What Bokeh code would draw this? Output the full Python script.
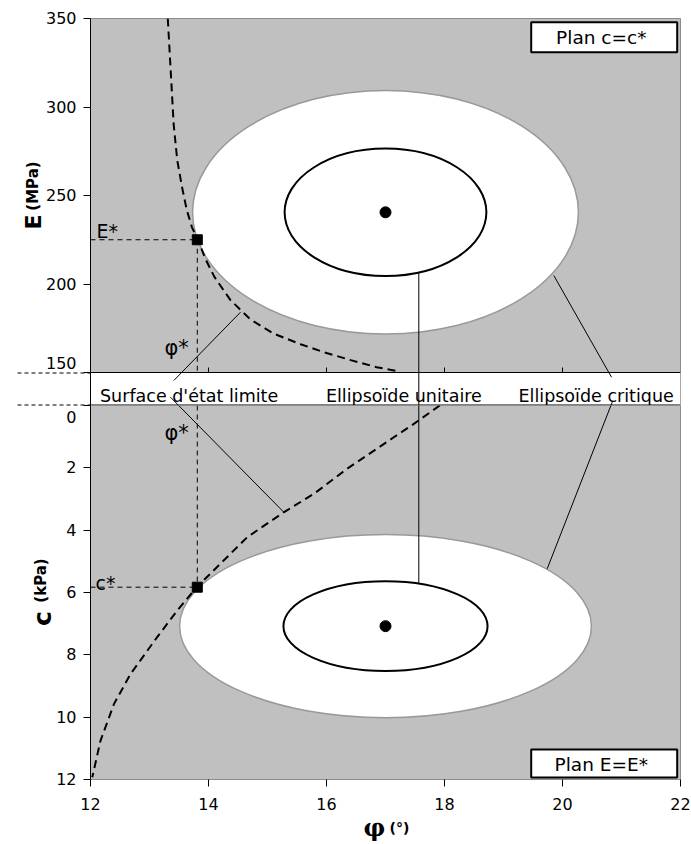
import numpy as np
from bokeh.plotting import figure
from bokeh.models import Range1d, FixedTicker, Label
from bokeh.layouts import column
from bokeh.embed import file_html
from bokeh.resources import INLINE

# ---------------- data ----------------
phi_ticks = [12, 14, 16, 18, 20, 22]
E_ticks = [150, 200, 250, 300, 350]
c_ticks = [0, 2, 4, 6, 8, 10, 12]

# limit-state surface, section c = c*  (phi, E)
lse_phi = [13.31, 13.36, 13.41, 13.47, 13.55, 13.63, 13.72, 13.82, 13.95, 14.10,
           14.37, 14.71, 15.10, 15.56, 16.00, 16.41, 16.85, 17.25]
lse_E = [350, 320, 290, 270, 255, 242, 232, 225, 214, 204,
         191, 180, 172, 166, 161, 157, 153, 150.5]

# limit-state surface, section E = E*  (phi, c)
lsc_phi = [17.92, 17.48, 17.14, 16.35, 15.79, 15.28, 14.66, 14.20, 13.80,
           13.47, 13.13, 12.68, 12.40, 12.17, 12.03]
lsc_c = [0.0, 0.59, 1.02, 2.03, 2.83, 3.42, 4.22, 5.08, 5.83,
         6.58, 7.43, 8.61, 9.57, 10.75, 11.93]

# mean point
phi_mean = 17.0
E_mean = 240.5
c_mean = 7.08

# semi-axes (phi, other) of the ellipsoid sections
unit_E_semi = [1.71, 36.0]
crit_E_semi = [3.27, 68.8]
unit_c_semi = [1.73, 1.44]
crit_c_semi = [3.49, 2.94]

# design point
phi_star = 13.81
E_star = 225.0
c_star = 5.83

# ---------------- layout helpers (page pixels -> data) ----------------
W, H = 691, 844
FL, FR = 90, 680
TOP, Y150, BAND_BOT, Y12 = 18, 372, 405, 779

px_per_phi = (FR - FL) / (22 - 12)
def fx(px):
    return 12 + (px - FL) / px_per_phi
E_per_px = (350 - 150) / (Y150 - TOP)
def fE(py):
    return 350 - (py - TOP) * E_per_px
c_per_px = 12 / (Y12 - BAND_BOT)
def fc(py):
    return (py - BAND_BOT) * c_per_px

E_low = fE(BAND_BOT - 0.5)
GREY = "#c0c0c0"
FONT = "DejaVu Sans"

# leader lines in page pixels
leaders = [
    ((240, 311.7), (173.3, 380)),
    ((170, 396.7), (283.3, 511.7)),
    ((418.3, 272.5), (418.3, 583.2)),
    ((553.3, 275), (611, 376.7)),
    ((611.7, 401.7), (546.7, 568.3)),
]


def style_yaxis(ax, ticks, hidden):
    ax.ticker = FixedTicker(ticks=ticks)
    ax.major_tick_out = 7
    ax.major_tick_in = 0
    ax.minor_tick_line_color = None
    ax.axis_line_color = "black"
    ax.major_tick_line_color = "black"
    ax.major_label_text_font = FONT
    ax.major_label_text_font_size = "16px"
    ax.major_label_text_color = "black"
    ax.major_label_standoff = 7
    # the label at the band edge is drawn shifted away from the band (see overlay)
    ax.major_label_overrides = {hidden: " "}


def lab(p, x, y, text, size, **kw):
    kw.setdefault("text_baseline", "alphabetic")
    p.add_layout(Label(x=x, y=y, text=text, text_font=kw.pop("font", FONT),
                       text_font_size=size, text_color="black", **kw))


# ---------------- top figure: plane c = c* (with label band) ----------------
p1 = figure(width=W, height=BAND_BOT, x_range=Range1d(12, 22),
            y_range=Range1d(fE(BAND_BOT), 350), output_backend="svg",
            toolbar_location=None, x_axis_location=None,
            min_border_left=FL, min_border_right=W - FR, min_border_top=TOP,
            min_border_bottom=0)
p1.background_fill_color = GREY
p1.border_fill_color = "white"
p1.outline_line_color = "#8c8c8c"
p1.grid.visible = False
style_yaxis(p1.yaxis[0], E_ticks, E_ticks[0])

p1.ellipse(x=[phi_mean], y=[E_mean], width=[2 * crit_E_semi[0]], height=[2 * crit_E_semi[1]],
           fill_color="white", line_color="#999999", line_width=1.5)
p1.ellipse(x=[phi_mean], y=[E_mean], width=[2 * unit_E_semi[0]], height=[2 * unit_E_semi[1]],
           fill_color=None, line_color="black", line_width=2)
p1.segment(x0=phi_ticks[1:-1], y0=[150] * 4, x1=phi_ticks[1:-1], y1=[150 + 5 * E_per_px] * 4,
           line_color="black", line_width=1)
p1.line([12, phi_star], [E_star, E_star], line_dash="5 4", line_color="black", line_width=1)
p1.line([phi_star, phi_star], [E_star, 150], line_dash="5 4", line_color="black", line_width=1)
p1.line(lse_phi, lse_E, line_dash="8 5", line_color="black", line_width=2)
p1.scatter([phi_mean], [E_mean], marker="circle", size=11, color="black")
p1.scatter([phi_star], [E_star], marker="square", size=10, color="black")
# label band
p1.quad(left=[12], right=[22], bottom=[fE(BAND_BOT)], top=[150], fill_color="white", line_color=None)
for yy in (150, E_low):
    p1.line([12, 22], [yy, yy], line_color="black", line_width=1)
for (a, b) in leaders:
    p1.line([fx(a[0]), fx(b[0])], [fE(a[1]), fE(b[1])], line_color="black", line_width=1)
for txt, xl in (("Surface d'état limite", 99.5), ("Ellipsoïde unitaire", 325.4),
                ("Ellipsoïde critique", 518)):
    lab(p1, fx(xl), fE(395), txt, "17.5px")
p1.quad(left=[fx(530.7)], right=[fx(676.7)], top=[fE(21.7)], bottom=[fE(51.7)],
        fill_color="white", line_color="black", line_width=2)
lab(p1, fx(603.7), fE(37), "Plan  c=c*", "18.5px", text_align="center", text_baseline="middle")
lab(p1, fx(96), fE(230), "E*", "19px")
lab(p1, fx(164), fE(347), "φ*", "21px")

# ---------------- bottom figure: plane E = E* ----------------
OVER = BAND_BOT - Y150
p2 = figure(width=W, height=H - Y150, x_range=p1.x_range,
            y_range=Range1d(12, 0), output_backend="svg", toolbar_location=None,
            min_border_left=FL, min_border_right=W - FR, min_border_top=OVER,
            min_border_bottom=H - Y12, margin=(-OVER, 0, 0, 0))
p2.background_fill_color = GREY
p2.border_fill_alpha = 0
p2.outline_line_color = "#8c8c8c"
p2.grid.visible = False
style_yaxis(p2.yaxis[0], c_ticks, c_ticks[0])
xa = p2.xaxis[0]
xa.ticker = FixedTicker(ticks=phi_ticks)
xa.major_tick_out = 7
xa.major_tick_in = 0
xa.minor_tick_line_color = None
xa.axis_line_color = None
xa.major_tick_line_color = "black"
xa.major_label_text_font = FONT
xa.major_label_text_font_size = "16px"
xa.major_label_text_color = "black"
xa.major_label_standoff = 11

p2.ellipse(x=[phi_mean], y=[c_mean], width=[2 * crit_c_semi[0]], height=[2 * crit_c_semi[1]],
           fill_color="white", line_color="#999999", line_width=1.5)
p2.ellipse(x=[phi_mean], y=[c_mean], width=[2 * unit_c_semi[0]], height=[2 * unit_c_semi[1]],
           fill_color=None, line_color="black", line_width=2)
p2.line([12, phi_star], [c_star, c_star], line_dash="5 4", line_color="black", line_width=1)
p2.line([phi_star, phi_star], [0, c_star], line_dash="5 4", line_color="black", line_width=1)
p2.line(lsc_phi, lsc_c, line_dash="8 5", line_color="black", line_width=2)
p2.scatter([phi_mean], [c_mean], marker="circle", size=11, color="black")
p2.scatter([phi_star], [c_star], marker="square", size=10, color="black")
for (a, b) in leaders:
    p2.line([fx(a[0]), fx(b[0])], [fc(a[1]), fc(b[1])], line_color="black", line_width=1)
p2.quad(left=[fx(530.7)], right=[fx(676.7)], top=[fc(749)], bottom=[fc(777)],
        fill_color="white", line_color="black", line_width=2)
lab(p2, fx(603.7), fc(763.5), "Plan  E=E*", "18.5px", text_align="center", text_baseline="middle")
lab(p2, fx(164), fc(432), "φ*", "21px")
lab(p2, fx(95), fc(582), "c*", "19px")

# ---------------- overlay for items outside the plot frames ----------------
ov = figure(width=W, height=H, x_range=Range1d(0, W), y_range=Range1d(H, 0),
            output_backend="svg", toolbar_location=None, x_axis_location=None,
            y_axis_location=None, min_border=0, margin=(-H, 0, 0, 0))
ov.frame_align = False
ov.background_fill_alpha = 0
ov.border_fill_alpha = 0
ov.outline_line_color = None
ov.grid.visible = False
for yy in (Y150 + 0.5, BAND_BOT - 0.5):
    ov.line([17, FL], [yy, yy], line_dash="4 3", line_color="black", line_width=1)
# edge tick labels, shifted away from the band
lab(ov, 76, 362, str(E_ticks[0]), "16px", text_align="right", text_baseline="middle")
lab(ov, 76, 416, str(c_ticks[0]), "16px", text_align="right", text_baseline="middle")
# axis titles
lab(ov, 33, 221.5, "E", "22px", text_font_style="bold", text_align="center", angle=np.pi / 2)
lab(ov, 32, 185.5, "(MPa)", "15px", text_font_style="bold", text_align="center", angle=np.pi / 2)
lab(ov, 41.5, 618, "c", "25px", text_font_style="bold", text_align="center", angle=np.pi / 2)
lab(ov, 40.5, 580, "(kPa)", "15px", text_font_style="bold", text_align="center", angle=np.pi / 2)
lab(ov, 363, 827, "φ", "24px", font="DejaVu Serif", text_font_style="bold")
lab(ov, 389, 827, "(°)", "14px", text_font_style="bold")

layout = column(p1, p2, ov, spacing=0)
open("out.html", "w").write(file_html(layout, INLINE))
